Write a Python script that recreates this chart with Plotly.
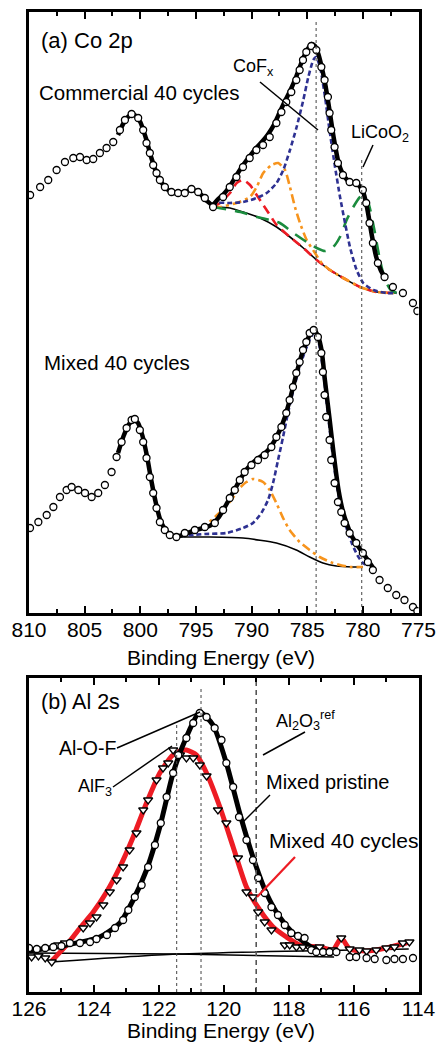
import plotly.graph_objects as go

# ---------------- Panel (a) Co 2p ----------------
# Commercial 40 cycles: measured points
com_E = [809.9, 809.0, 808.27, 807.52, 806.77, 806.02, 805.42, 804.82, 804.23, 803.63, 803.03, 802.43,
         801.83, 801.38, 800.78, 800.19, 799.74, 799.44, 799.14, 798.84, 798.54, 798.24, 797.79, 797.2,
         796.6, 796.0, 795.4, 794.8, 794.2, 793.46, 792.56, 791.96, 791.36, 790.77, 790.17, 789.57,
         788.97, 788.37, 787.77, 787.32, 786.88, 786.43, 785.98, 785.68, 785.38, 785.08, 784.63, 784.18,
         783.73, 783.44, 783.14, 782.99, 782.84, 782.54, 782.24, 781.79, 781.19, 780.59, 780.0, 779.7,
         779.4, 779.1, 778.65, 778.05, 777.3, 776.4, 775.5, 775.1]
com_I = [418, 426, 433, 443, 451, 455, 456, 453, 454, 460, 465, 471,
         483, 493, 499, 495, 483, 470, 460, 448, 440, 433, 426, 421,
         420, 420, 424, 421, 415, 406, 416, 426, 436, 446, 455, 463,
         468, 476, 490, 501, 511, 521, 533, 543, 553, 561, 567, 563,
         546, 533, 516, 500, 483, 466, 450, 438, 431, 430, 423, 410,
         390, 370, 350, 336, 326, 320, 310, 302]
# Commercial fit envelope
comfit_E = [802.0, 801.5, 801.0, 800.5, 800.0, 799.5, 799.0, 798.5, 798.0, 797.5, 797.0, 796.5, 796.0,
            795.5, 795.0, 794.5, 794.0, 793.5, 793.0, 792.5, 792.0, 791.5, 791.0, 790.5, 790.0, 789.5,
            789.0, 788.5, 788.0, 787.5, 787.0, 786.5, 786.0, 785.5, 785.0, 784.6, 784.3, 784.0, 783.7,
            783.4, 783.0, 782.6, 782.2, 781.8, 781.4, 781.0, 780.5, 780.0, 779.6, 779.2, 778.8, 778.4, 778.0]
comfit_I = [478, 490, 497, 498, 491, 475, 455, 439, 429, 423, 420, 420, 421,
            423, 422, 418, 412, 408, 414, 419, 426, 435, 444, 452, 459, 466,
            472, 479, 488, 500, 512, 523, 536, 551, 563, 569, 567, 559, 546,
            530, 503, 474, 451, 439, 433, 430, 429, 422, 404, 378, 356, 343, 335]
# Commercial background
combg_E = [793.46, 793.14, 791.94, 790.75, 789.25, 787.75, 786.55, 785.35, 784.15, 782.96, 781.76,
           780.26, 778.76, 776.96]
combg_I = [406, 406, 405, 401, 395, 386, 376, 365, 353, 343, 335, 326, 321, 320]
# Commercial components
comblue_E = [793.46, 793.14, 791.94, 790.75, 789.54, 788.64, 787.75, 787.15, 786.55, 785.95, 785.35,
             784.9, 784.45, 784.2, 783.85, 783.4, 782.96, 782.5, 782.05, 781.6, 781.16, 780.56, 779.96,
             779.06, 777.86, 776.96]
comblue_I = [406, 410, 410, 411, 415, 420, 430, 443, 463, 486, 513,
             536, 553, 556, 546, 516, 480, 446, 416, 390, 366, 343, 330,
             323, 320, 320]
comred_E = [793.46, 792.84, 791.94, 791.34, 790.75, 790.14, 789.54, 788.95, 788.35, 787.75, 786.55,
            785.35, 784.15, 782.96, 781.76, 780.26, 778.76, 776.96]
comred_I = [406, 410, 420, 430, 433, 428, 418, 408, 398, 388, 376, 365, 353, 343, 335, 326, 321, 320]
comorange_E = [793.46, 792.84, 791.34, 790.14, 789.54, 788.95, 788.2, 787.6, 787.0, 786.55, 786.1,
               785.65, 785.05, 784.3, 783.7, 782.96, 781.76, 780.26, 778.76, 776.96]
comorange_I = [406, 406, 410, 416, 426, 440, 448, 450, 443, 426, 406, 390, 373, 360, 350, 343, 335,
               326, 321, 320]
comgreen_E = [793.46, 791.0, 789.5, 788.35, 787.45, 786.25, 785.05, 784.15, 783.4, 782.66, 782.06,
              781.46, 780.86, 780.26, 779.96, 779.5, 779.0, 778.5, 778.0, 777.5, 776.96]
comgreen_I = [406, 401, 396, 393, 390, 380, 371, 365, 362, 366, 376, 393, 406, 416, 418, 410, 385,
              355, 333, 323, 320]

# Mixed 40 cycles: measured points
mix_E = [809.91, 809.16, 808.41, 807.81, 807.22, 806.62, 806.17, 805.57, 804.97, 804.37, 803.78, 803.18,
         802.58, 802.13, 801.68, 801.23, 800.78, 800.49, 800.04, 799.74, 799.44, 799.14, 798.84, 798.54,
         798.24, 797.8, 797.35, 796.75, 796.0, 795.1, 794.2, 793.3, 792.56, 791.96, 791.51, 791.06,
         790.62, 790.01, 789.42, 788.82, 788.22, 787.77, 787.32, 786.88, 786.58, 786.28, 785.98, 785.68,
         785.38, 785.08, 784.78, 784.42, 784.04, 783.73, 783.59, 783.44, 783.29, 782.99, 782.84, 782.54,
         782.24, 781.94, 781.64, 781.19, 780.59, 780.0, 779.55, 779.1, 778.5, 777.76, 777.0, 776.26,
         775.5, 775.1]
mix_I = [85, 91, 98, 106, 116, 123, 126, 123, 120, 116, 120, 128,
         141, 156, 171, 185, 193, 194, 183, 171, 155, 136, 120, 105,
         91, 83, 78, 76, 80, 83, 86, 90, 103, 115, 123, 133,
         141, 148, 153, 158, 166, 176, 186, 200, 213, 226, 240, 251,
         263, 271, 280, 283, 276, 260, 241, 218, 196, 173, 153, 130,
         111, 101, 90, 80, 70, 60, 51, 43, 33, 25, 18, 13,
         6, 2]
mixfit_E = [802.0, 801.5, 801.0, 800.6, 800.2, 799.8, 799.4, 799.0, 798.6, 798.2, 797.8, 797.4, 797.0,
            796.5, 796.0, 795.0, 794.0, 793.5, 793.0, 792.5, 792.0, 791.5, 791.0, 790.5, 790.0, 789.5,
            789.0, 788.5, 788.0, 787.5, 787.0, 786.5, 786.0, 785.5, 785.0, 784.6, 784.3, 784.0, 783.7,
            783.4, 783.0, 782.6, 782.2, 781.8, 781.4, 781.0, 780.5, 780.0, 779.5, 779.0]
mixfit_I = [160, 177, 189, 194, 190, 177, 157, 132, 110, 93, 84, 79, 77,
            77, 79, 83, 86, 89, 95, 104, 114, 124, 134, 143, 149, 154,
            158, 163, 171, 182, 196, 216, 238, 258, 273, 281, 282, 276, 262,
            232, 195, 157, 124, 102, 88, 77, 68, 60, 52, 44]
mixbg_E = [796.5, 793.76, 790.77, 787.77, 785.98, 784.78, 783.59, 782.39, 780.89, 780.0]
mixbg_I = [76, 76, 75, 70, 63, 56, 50, 47, 46, 46]
mixblue_E = [796.4, 794.2, 792.26, 790.77, 789.87, 789.12, 788.52, 788.07, 787.62, 787.17, 786.73,
             786.28, 785.83, 785.38, 784.78, 784.4, 784.0, 783.6, 783.2, 782.8, 782.4, 782.0, 781.5,
             781.0, 780.5, 780.0, 779.5]
mixblue_I = [77, 79, 80, 85, 90, 100, 113, 130, 153, 176, 200,
             221, 240, 256, 273, 280, 272, 245, 205, 166, 132, 107, 86,
             70, 58, 50, 47]
mixorange_E = [796.4, 795.0, 794.0, 793.0, 791.96, 791.06, 790.47, 789.87, 788.97, 788.37, 787.77,
               787.17, 786.58, 785.68, 784.78, 783.88, 782.69, 781.19, 780.0]
mixorange_I = [77, 82, 89, 99, 111, 125, 131, 134, 131, 123, 110, 95, 83, 71, 63, 56, 50, 46, 46]

ref_lines_a = [784.2, 780.1]
ref_tops_a = [591, 455]

# ---------------- Panel (b) Al 2s ----------------
pri_E = [126.0, 125.76, 125.5, 125.25, 125.0, 124.74, 124.43, 124.12, 123.92, 123.6, 123.35, 123.1,
         122.94, 122.74, 122.53, 122.33, 122.12, 121.94, 121.76, 121.56, 121.4, 121.15, 120.94, 120.74,
         120.53, 120.28, 120.07, 119.92, 119.71, 119.53, 119.3, 119.1, 118.94, 118.74, 118.53, 118.33,
         118.12, 117.92, 117.71, 117.51, 117.3, 117.15, 116.94, 116.74, 116.53, 116.12, 115.92, 115.6,
         115.35, 114.99, 114.74, 114.48, 114.17]
pri_I = [44, 43, 44, 45, 46, 49, 49, 50, 53, 57, 64, 72,
         82, 95, 107, 125, 147, 169, 195, 219, 237, 254, 269, 279,
         275, 264, 252, 229, 205, 175, 152, 132, 114, 99, 85, 77,
         67, 59, 56, 54, 42, 40, 40, 40, 40, 35, 35, 34,
         33, 32, 33, 33, 34]
cyc_E = [125.92, 125.71, 125.5, 125.3, 125.1, 124.89, 124.33, 124.12, 123.92, 123.71, 123.51, 123.3,
         123.1, 122.9, 122.69, 122.48, 122.33, 122.07, 121.87, 121.71, 121.56, 121.35, 121.15, 120.94,
         120.74, 120.53, 120.18, 119.92, 119.56, 119.3, 119.1, 118.94, 118.74, 118.53, 118.12, 117.97,
         117.76, 117.56, 117.35, 117.05, 116.64, 116.38, 116.12, 115.82, 115.6, 115.3, 114.99, 114.74,
         114.48, 114.28]
cyc_I = [35, 36, 34, 30, 47, 49, 64, 69, 75, 87, 100, 112,
         125, 142, 159, 182, 192, 212, 224, 229, 242, 237, 234, 234,
         227, 216, 182, 169, 134, 100, 95, 80, 70, 62, 47, 47,
         45, 45, 44, 45, 42, 54, 43, 42, 41, 42, 44, 45,
         49, 50]
cycfit_E = [125.3, 124.84, 124.43, 124.02, 123.61, 123.2, 122.79, 122.38, 121.97, 121.6, 121.35, 121.15,
            120.84, 120.53, 120.12, 119.71, 119.3, 118.89, 118.48, 118.07, 117.66, 117.05, 116.64, 116.38,
            116.12, 115.6, 114.99, 114.28]
cycfit_I = [31, 47, 64, 80, 100, 125, 155, 189, 219, 236, 241, 242,
            237, 219, 185, 145, 105, 82, 65, 55, 47, 45, 42, 54,
            43, 41, 44, 50]
prifit_E = [126.0, 124.84, 123.82, 123.2, 122.79, 122.38, 121.97, 121.56, 121.15, 120.74, 120.33, 119.92,
            119.51, 119.1, 118.69, 118.28, 117.87, 117.25, 116.64]
prifit_I = [41, 47, 55, 69, 92, 122, 165, 219, 255, 280, 267, 229, 179, 135, 99, 75, 59, 44, 38]
pribg_E = [126.0, 121.45, 116.6]
pribg_I = [39, 38, 35]
cycbg_E = [125.35, 121.45, 114.3]
cycbg_I = [30, 38, 43]

ref_dotted_b = [121.45, 120.7]
ref_dotted_tops_b = [269, 305]
ref_dashed_b = 119.0
ref_dashed_top_b = 310

ticks_a = [810, 805, 800, 795, 790, 785, 780, 775]
minor_a = [807.5, 802.5, 797.5, 792.5, 787.5, 782.5, 777.5]
ticks_b = [126, 124, 122, 120, 118, 116, 114]
minor_b = [125, 123, 121, 119, 117, 115]

# ---------------- Figure ----------------
W, H = 437, 1043
FONT = "Liberation Sans, Arial, sans-serif"
BLUE, RED, ORANGE, GREEN = "#2E3192", "#ED1C24", "#F7941D", "#1B8C3E"

def px(x, y):
    return x / W, 1 - y / H

fig = go.Figure()

def line(xs, ys, color, width, dash="solid", axis="a", shape="spline"):
    fig.add_trace(go.Scatter(x=xs, y=ys, mode="lines",
                             line=dict(color=color, width=width, dash=dash, shape=shape, smoothing=0.6),
                             xaxis="x" if axis == "a" else "x2", yaxis="y" if axis == "a" else "y2",
                             hoverinfo="skip", showlegend=False))

def pts(xs, ys, symbol, size, axis="a"):
    fig.add_trace(go.Scatter(x=xs, y=ys, mode="markers",
                             marker=dict(symbol=symbol, size=size, color="white",
                                         line=dict(color="black", width=1.3)),
                             xaxis="x" if axis == "a" else "x2", yaxis="y" if axis == "a" else "y2",
                             showlegend=False))

# panel a – commercial
line(combg_E, combg_I, "black", 1.6)
line(comred_E, comred_I, RED, 2.6, "9px,6px")
line(comorange_E, comorange_I, ORANGE, 2.6, "9px,4px,3px,4px")
line(comgreen_E, comgreen_I, GREEN, 2.6, "13px,9px")
line(comblue_E, comblue_I, BLUE, 2.6, "5px,3px")
line(comfit_E, comfit_I, "black", 4.5)
pts(com_E, com_I, "circle", 7)
# panel a – mixed
line(mixbg_E, mixbg_I, "black", 1.6)
line(mixorange_E, mixorange_I, ORANGE, 2.6, "9px,4px,3px,4px")
line(mixblue_E, mixblue_I, BLUE, 2.6, "5px,3px")
line(mixfit_E, mixfit_I, "black", 4.5)
pts(mix_E, mix_I, "circle", 7)

# panel b
line(pribg_E, pribg_I, "black", 1.5, axis="b")
line(cycbg_E, cycbg_I, "black", 1.5, axis="b")
line(cycfit_E, cycfit_I, RED, 5, axis="b")
line(prifit_E, prifit_I, "black", 5, axis="b")
pts(cyc_E, cyc_I, "triangle-down", 8, axis="b")
pts(pri_E, pri_I, "circle", 7, axis="b")

shapes = []
for xv, top in zip(ref_lines_a, ref_tops_a):
    shapes.append(dict(type="line", xref="x", yref="y", x0=xv, x1=xv, y0=0, y1=top,
                       line=dict(color="#444", width=1, dash="dot")))
for xv, top in zip(ref_dotted_b, ref_dotted_tops_b):
    shapes.append(dict(type="line", xref="x2", yref="y2", x0=xv, x1=xv, y0=0, y1=top,
                       line=dict(color="#444", width=1, dash="dot")))
shapes.append(dict(type="line", xref="x2", yref="y2", x0=ref_dashed_b, x1=ref_dashed_b, y0=0,
                   y1=ref_dashed_top_b, line=dict(color="#555", width=1.6, dash="5px,4px")))

def leader(x0, y0, x1, y1, color="black", width=1.5):
    a = px(x0, y0); b = px(x1, y1)
    shapes.append(dict(type="line", xref="paper", yref="paper", x0=a[0], y0=a[1], x1=b[0], y1=b[1],
                       line=dict(color=color, width=width)))

leader(260, 82, 318, 130)
leader(373, 145, 363, 167)
leader(117, 748, 200, 712)
leader(113, 787, 172, 746)
leader(305, 732, 263, 755)
leader(270, 795, 243, 822)
leader(295, 857, 257, 897, RED, 2.2)

annotations = []
def label(text, x, y, size, anchor="left"):
    a = px(x, y)
    annotations.append(dict(text=text, x=a[0], y=a[1], xref="paper", yref="paper",
                            xanchor=anchor, yanchor="middle", showarrow=False,
                            font=dict(family=FONT, size=size, color="black")))

label("(a) Co 2p", 39, 40, 22)
label("Commercial 40 cycles", 37, 92, 20.5)
label("CoF<sub>x</sub>", 231, 68, 18)
label("LiCoO<sub>2</sub>", 349, 133, 18)
label("Mixed 40 cycles", 42, 362, 20.5)
label("(b) Al 2s", 39, 702, 21.5)
label("Al-O-F", 57, 748, 19.5)
label("AlF<sub>3</sub>", 76, 787, 18)
label("Al<sub>2</sub>O<sub>3</sub><sup>ref</sup>", 274, 720, 18)
label("Mixed pristine", 264, 782, 20)
label("Mixed 40 cycles", 267, 840, 21)
label("Binding Energy (eV)", 221, 657, 21, "center")
label("Binding Energy (eV)", 221, 1030, 21, "center")

xdom = [29 / W, 418.5 / W]
axis_common = dict(showline=True, linewidth=2.5, linecolor="black", mirror="allticks",
                   ticks="inside", ticklen=7, tickwidth=1.5, tickcolor="black",
                   showgrid=False, zeroline=False, automargin=False, ticklabelstandoff=-4,
                   tickfont=dict(family=FONT, size=21, color="black"))
yaxis_common = dict(showline=True, linewidth=2.5, linecolor="black", mirror=True, automargin=False,
                    showticklabels=False, ticks="", showgrid=False, zeroline=False)
minor_common = dict(ticks="inside", ticklen=4, tickwidth=1.5, tickcolor="black", showgrid=False)

fig.update_layout(
    width=W, height=H, margin=dict(l=0, r=0, t=0, b=0, autoexpand=False),
    paper_bgcolor="white", plot_bgcolor="white", showlegend=False,
    font=dict(family=FONT, color="black"),
    xaxis=dict(domain=xdom, range=[810, 775], anchor="y", tickvals=ticks_a,
               minor=dict(tickvals=minor_a, **minor_common), **axis_common),
    yaxis=dict(domain=[1 - 613 / H, 1 - 12 / H], range=[0, 601], anchor="x", **yaxis_common),
    xaxis2=dict(domain=xdom, range=[126, 114], anchor="y2", tickvals=ticks_b,
                minor=dict(tickvals=minor_b, **minor_common), **axis_common),
    yaxis2=dict(domain=[1 - 992 / H, 1 - 678 / H], range=[0, 314], anchor="x2", **yaxis_common),
    shapes=shapes, annotations=annotations,
)

fig.write_html("out.html")
